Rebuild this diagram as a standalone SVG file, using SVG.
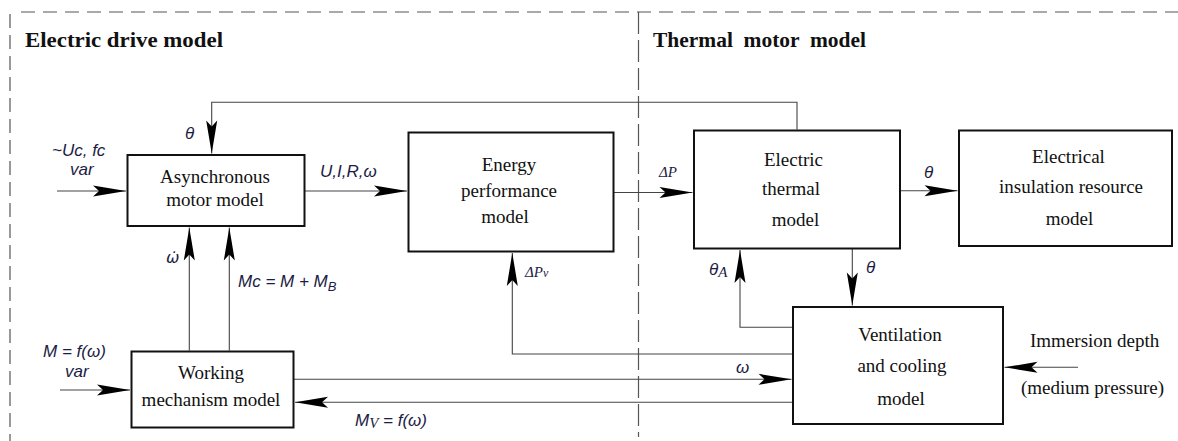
<svg xmlns="http://www.w3.org/2000/svg" width="1178" height="441" viewBox="0 0 1178 441">
<style>
.box{fill:#fff;stroke:#111;stroke-width:2}
.ln{fill:none;stroke:#444;stroke-width:1.1}
.dash{fill:none;stroke:#555;stroke-width:1.2}
.t{font-family:"Liberation Serif","Times New Roman",serif;font-size:19px;fill:#111;text-anchor:middle}
.ts{font-family:"Liberation Serif","Times New Roman",serif;font-size:19px;fill:#111}
.title{font-family:"Liberation Serif","Times New Roman",serif;font-size:22px;font-weight:bold;fill:#111}
.m{font-family:"Liberation Sans",Arial,sans-serif;font-style:italic;font-size:17px;fill:#1c1c44}
.ms{font-family:"Liberation Serif","Times New Roman",serif;font-style:italic;font-size:15px;fill:#1c1c44}
</style>
<defs>
<marker id="ah" markerUnits="userSpaceOnUse" viewBox="-36 -7 38 14" markerWidth="38" markerHeight="14" refX="0" refY="0" orient="auto">
<path d="M0,0 L-33,-5.5 L-27,0 L-33,5.5 Z" fill="#000"/>
</marker>
</defs>
<rect width="1178" height="441" fill="#fff"/>
<g id="frame">
<line class="dash" x1="21" y1="12" x2="1178" y2="12" stroke-dasharray="14 8"/>
<line class="dash" x1="10" y1="14" x2="10" y2="441" stroke-dasharray="14 7" stroke="#888"/>
<line class="dash" x1="638.5" y1="12" x2="638.5" y2="437" stroke-dasharray="22 6" stroke="#444"/>
<text class="title" x="25" y="47" textLength="198" lengthAdjust="spacingAndGlyphs">Electric drive model</text>
<text class="title" x="653" y="47" xml:space="preserve" textLength="213" lengthAdjust="spacingAndGlyphs">Thermal  motor  model</text>
</g>
<g id="connectors">
<path class="ln" d="M797,129.5 V102.3 H211.7 V153.5" marker-end="url(#ah)"/>
<path class="ln" d="M57,191 H126" marker-end="url(#ah)"/>
<path class="ln" d="M305,191 H407" marker-end="url(#ah)"/>
<path class="ln" d="M614,192.5 H692.5" marker-end="url(#ah)"/>
<path class="ln" d="M900.5,190.7 H957.5" marker-end="url(#ah)"/>
<path class="ln" d="M852.3,249 V305.5" marker-end="url(#ah)"/>
<path class="ln" d="M792,327.3 H740 V250" marker-end="url(#ah)"/>
<path class="ln" d="M792,354 H512.3 V253" marker-end="url(#ah)"/>
<path class="ln" d="M294,379.3 H791.5" marker-end="url(#ah)"/>
<path class="ln" d="M792,402.3 H295" marker-end="url(#ah)"/>
<path class="ln" d="M1078,367.3 H1004.5" marker-end="url(#ah)"/>
<path class="ln" d="M189.3,350.5 V227.5" marker-end="url(#ah)"/>
<path class="ln" d="M229.3,350.5 V227.5" marker-end="url(#ah)"/>
<path class="ln" d="M60,390 H130" marker-end="url(#ah)"/>
<text class="m" x="185" y="139">θ</text>
<text class="m" x="52" y="156">~Uc, fc</text>
<text class="m" x="70" y="175">var</text>
<text class="m" x="320" y="177">U,I,R,ω</text>
<text class="ms" x="659" y="177">ΔP</text>
<text class="m" x="924" y="178">θ</text>
<text class="m" x="866" y="273">θ</text>
<text class="m" x="709" y="275">θ<tspan class="ms" font-size="12" dy="2">A</tspan></text>
<text class="ms" x="525" y="277">ΔP<tspan font-size="12">v</tspan></text>
<text class="m" x="166" y="263" style="font-family:'DejaVu Sans',sans-serif;font-size:16px">ω̇</text>
<text class="m" x="238" y="287">Mc = M + M<tspan font-size="13" dy="4">B</tspan></text>
<text class="m" x="43" y="357">M = f(ω)</text>
<text class="m" x="65" y="377">var</text>
<text class="m" x="736" y="373">ω</text>
<text class="m" x="355" y="426">M<tspan class="ms" font-size="12" dy="2">V</tspan><tspan dy="-2"> = f(ω)</tspan></text>
<text class="ts" x="1030" y="347">Immersion depth</text>
<text class="ts" x="1021" y="394">(medium pressure)</text>
</g>
<g id="async">
<rect class="box" x="127.5" y="155" width="177" height="71"/>
<text class="t" x="215" y="183">Asynchronous</text>
<text class="t" x="215" y="206">motor model</text>
</g>
<g id="energy">
<rect class="box" x="408.5" y="132.5" width="205" height="119"/>
<text class="t" x="509" y="171">Energy</text>
<text class="t" x="509" y="197">performance</text>
<text class="t" x="505" y="223">model</text>
</g>
<g id="thermal">
<rect class="box" x="694" y="130.5" width="206" height="118"/>
<text class="t" x="793.5" y="166">Electric</text>
<text class="t" x="791" y="195">thermal</text>
<text class="t" x="795.5" y="226">model</text>
</g>
<g id="insulation">
<rect class="box" x="959" y="130.5" width="213" height="115.5"/>
<text class="t" x="1068.5" y="163">Electrical</text>
<text class="t" x="1071" y="193">insulation resource</text>
<text class="t" x="1069.5" y="225">model</text>
</g>
<g id="ventilation">
<rect class="box" x="793" y="307" width="210" height="117"/>
<text class="t" x="900" y="341">Ventilation</text>
<text class="t" x="902" y="372">and cooling</text>
<text class="t" x="901" y="405">model</text>
</g>
<g id="working">
<rect class="box" x="131.5" y="351.5" width="162" height="76"/>
<text class="t" x="211" y="379">Working</text>
<text class="t" x="211" y="406">mechanism model</text>
</g>
</svg>
